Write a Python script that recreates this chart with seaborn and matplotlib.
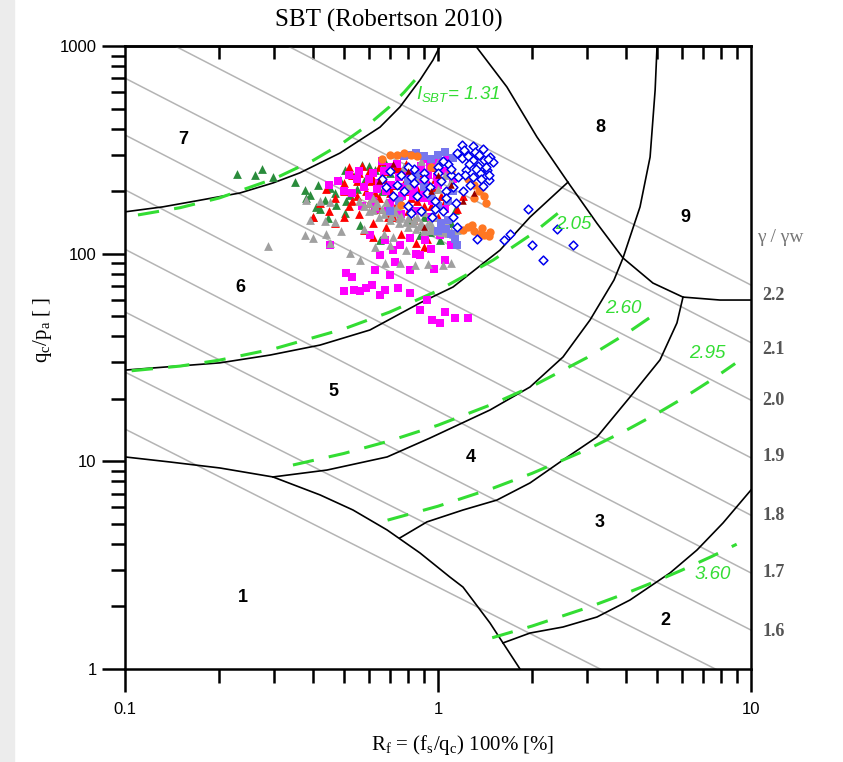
import matplotlib
matplotlib.use("Agg")
import matplotlib.pyplot as plt
from matplotlib.patches import Rectangle
from matplotlib.ticker import NullFormatter
import seaborn as sns

# zone boundaries: Rf [%] and qc/pa
b67_rf = [0.1, 0.132, 0.174, 0.233, 0.297, 0.362, 0.486, 0.653, 0.756, 0.876, 0.964, 1.015]
b67_q = [159, 168, 181, 196, 219, 245, 305, 407, 509, 686, 856, 1000]
b56_rf = [0.1, 0.201, 0.291, 0.42, 0.606, 0.876, 1.117, 1.578, 1.968, 2.602]
b56_q = [27.5, 29.8, 32.5, 36.3, 42.9, 57.9, 69.1, 104, 150, 221]
b8_rf = [1.32, 1.66, 2.07, 2.60, 3.22, 3.90, 4.86, 6.06, 7.96, 10]
b8_q = [1000, 635, 365, 221, 140, 95.3, 72.2, 61.8, 59.8, 59.8]
b45_rf = [0.297, 0.442, 0.688, 0.943, 1.466, 1.968, 2.508, 3.059, 3.65, 3.90, 4.42, 4.76, 4.94, 5.01]
b45_q = [8.41, 9.08, 10.5, 12.95, 17.67, 22.8, 31.8, 47.9, 74.7, 95.3, 168, 292, 614, 1000]
b1_rf = [0.1, 0.139, 0.201, 0.297, 0.42, 0.535, 0.688, 0.876, 1.092, 1.202, 1.466, 1.613, 1.828]
b1_q = [10.5, 9.93, 9.29, 8.41, 6.89, 5.83, 4.67, 3.62, 2.77, 2.48, 1.665, 1.335, 1.0]
b34_rf = [0.756, 0.922, 1.202, 1.543, 1.968, 2.508, 3.221, 4.106, 5.12, 5.80, 6.064]
b34_q = [4.28, 5.11, 5.83, 6.51, 7.87, 10.15, 13.1, 20.4, 30.8, 46.4, 61.8]
b23_rf = [1.613, 1.968, 2.508, 3.221, 4.106, 5.51, 6.72, 8.14, 10]
b23_q = [1.335, 1.49, 1.593, 1.78, 2.149, 2.90, 3.74, 5.05, 7.28]
boundaries = [(b67_rf, b67_q), (b56_rf, b56_q), (b8_rf, b8_q), (b45_rf, b45_q),
              (b1_rf, b1_q), (b34_rf, b34_q), (b23_rf, b23_q)]

# I_SBT contours (green dashed)
ic131_rf = [0.11, 0.15, 0.2, 0.3, 0.4, 0.5, 0.6, 0.7, 0.78, 0.85]
ic131_q = [153.6, 166.5, 185.4, 229.6, 281.8, 344, 418.4, 509.7, 599.3, 694]
ic205_rf = [0.105, 0.15, 0.2, 0.3, 0.5, 0.7, 1.0, 1.5, 2.0, 2.6]
ic205_q = [27.3, 28.75, 30.7, 34.85, 43.4, 52.3, 66.4, 93.1, 124.6, 171.1]
ic260_rf = [0.344, 0.5, 0.7, 1.0, 1.5, 2.0, 3.0, 4.0, 4.86]
ic260_q = [9.60, 10.91, 12.54, 14.93, 18.91, 22.98, 31.64, 41.24, 50.4]
ic295_rf = [0.69, 1.0, 1.5, 2.0, 3.0, 4.0, 5.0, 6.0, 7.5, 8.9]
ic295_q = [5.21, 6.08, 7.43, 8.76, 11.4, 14.13, 16.96, 19.94, 24.73, 29.58]
ic360_rf = [1.49, 2.0, 3.0, 4.0, 5.0, 6.0, 7.5, 9.0]
ic360_q = [1.414, 1.611, 1.973, 2.319, 2.656, 2.989, 3.486, 3.99]
ic_lines = [(ic131_rf, ic131_q), (ic205_rf, ic205_q), (ic260_rf, ic260_q),
            (ic295_rf, ic295_q), (ic360_rf, ic360_q)]
ic_texts = ["2.05", "2.60", "2.95", "3.60"]
ic_text_rf = [2.70, 3.90, 7.23, 7.56]
ic_text_q = [137.5, 54.2, 32.9, 2.84]

# unit weight lines: qc/pa where each meets Rf = 0.1 and Rf = 10
gl_left = [2540, 1330, 700, 373, 203, 105, 52.4, 26.9, 14.3]
gl_right = [70.6, 37.3, 19.7, 10.4, 5.5, 2.9, 1.54, 0.82, 0.43]
gamma_labels = ["2.2", "2.1", "2.0", "1.9", "1.8", "1.7", "1.6"]
gamma_label_q = [63.2, 34.4, 19.7, 10.5, 5.51, 2.90, 1.51]

zone_names = ["1", "2", "3", "4", "5", "6", "7", "8", "9"]
zone_rf = [0.238, 5.31, 3.29, 1.27, 0.463, 0.233, 0.153, 3.29, 6.15]
zone_q = [2.2, 1.72, 5.1, 10.4, 21.6, 69, 353, 403, 148.6]

# CPT data
green_rf = [0.228, 0.26, 0.274, 0.297, 0.349, 0.375, 0.39, 0.414, 0.435, 0.452, 0.486, 0.504,
            0.543, 0.572, 0.523, 0.472, 0.408, 0.445, 0.504, 0.563, 0.629, 0.677, 0.729, 0.814,
            0.876, 0.943, 1.015, 1.133, 0.653, 0.814, 0.60, 0.70, 0.78, 0.88, 0.95, 1.05,
            0.55, 0.62, 0.90, 1.10, 0.38, 0.42, 0.47, 0.40, 0.51, 0.58, 0.66, 0.74]
green_q = [242, 239, 256, 234, 222, 203, 192, 214, 181, 207, 226, 253,
           239, 267, 192, 172, 168, 149, 157, 137, 253, 276, 267, 226,
           123, 127, 116, 162, 116, 145, 265, 245, 262, 230, 200, 190,
           205, 175, 150, 140, 185, 165, 195, 150, 180, 225, 200, 215]
red_rf = [0.42, 0.45, 0.47, 0.50, 0.50, 0.52, 0.53, 0.55, 0.56, 0.58, 0.60, 0.60, 0.62,
          0.63, 0.65, 0.65, 0.67, 0.68, 0.70, 0.70, 0.72, 0.73, 0.75, 0.76, 0.78, 0.80,
          0.80, 0.82, 0.84, 0.86, 0.88, 0.90, 0.92, 0.95, 0.98, 1.00, 1.05, 1.10, 0.58,
          0.62, 0.47, 0.40, 0.44, 0.66, 0.74, 0.85, 0.90, 0.55, 0.76, 0.69, 1.15, 1.2, 0.98,
          0.5, 0.53, 0.56, 0.59, 0.62, 0.65, 0.68, 0.71, 0.74, 0.77, 0.8, 0.83, 0.86, 0.89,
          0.92, 0.95, 0.52, 0.57, 0.61, 0.66, 0.7, 0.75, 0.79, 0.84, 0.88, 0.93, 0.97, 1.02]
red_q = [175, 160, 185, 150, 200, 170, 240, 190, 155, 215, 250, 175, 140,
         195, 260, 165, 230, 135, 180, 205, 150, 255, 190, 125, 220, 160,
         240, 185, 145, 205, 265, 170, 118, 195, 230, 150, 180, 210, 130,
         120, 140, 150, 205, 280, 270, 112, 108, 225, 175, 150, 165, 190, 260,
         220, 180, 245, 200, 230, 185, 250, 215, 175, 245, 200, 230, 180, 240,
         210, 170, 260, 265, 225, 240, 195, 255, 270, 250, 190, 220, 205, 190]
mag_rf = [0.452, 0.51, 0.53, 0.606, 0.677, 0.756, 0.814, 0.908, 1.015, 0.653, 0.729, 0.876,
          1.053, 0.629, 0.702, 0.814, 0.615, 0.677, 0.745, 0.814, 0.653, 0.876, 0.957, 1.053,
          1.133, 1.247, 1.015, 0.922, 0.563, 0.59, 0.85, 0.95, 1.1, 0.97, 0.72, 0.50, 0.54,
          0.45, 0.48, 0.50, 0.52, 0.55, 0.58, 0.60, 0.62, 0.65, 0.68, 0.70, 0.72, 0.75,
          0.78, 0.80, 0.83, 0.86, 0.88, 0.90, 0.93, 0.96, 1.0, 1.05, 1.1, 1.12, 0.57,
          0.63, 0.69, 0.76, 0.85, 0.95, 1.05, 0.66, 0.92, 0.98,
          0.53, 0.56, 0.6, 0.64, 0.67, 0.71, 0.74, 0.77, 0.81, 0.84, 0.87, 0.91, 0.94,
          0.99, 1.03, 1.08, 0.62, 0.7, 0.79, 0.9]
mag_q = [110, 81, 77, 123, 116, 110, 119, 116, 123, 98.5, 91, 98.5,
         93, 83, 79, 83, 71, 67, 68, 65, 63, 53.5, 48, 52.4,
         49, 49, 46.4, 60, 66, 68, 100, 105, 110, 84, 104, 66, 67,
         215, 225, 200, 240, 230, 210, 190, 245, 220, 200, 260, 185, 235,
         210, 250, 190, 225, 265, 200, 240, 180, 215, 250, 200, 230, 170,
         165, 160, 155, 160, 150, 165, 280, 285, 275,
         195, 250, 230, 205, 250, 215, 270, 190, 235, 205, 250, 220, 260,
         235, 280, 290, 180, 175, 200, 185]
gray_rf = [0.286, 0.38, 0.42, 0.452, 0.39, 0.435, 0.47, 0.375, 0.40, 0.452, 0.523, 0.563,
           0.677, 0.756, 0.845, 0.93, 1.04, 1.1, 0.629, 0.70, 0.79, 0.49, 0.44,
           0.56, 0.6, 0.63, 0.66, 0.7, 0.73, 0.76, 0.8, 0.84, 0.88, 0.92, 0.96, 1.0, 1.05,
           1.1, 1.15, 0.6, 0.65, 0.7, 0.75, 0.8, 0.85, 0.9, 0.95, 0.62, 0.68, 0.74, 0.82,
           0.9, 0.98, 1.05,
           0.8, 0.85, 0.9, 0.95, 1.0, 1.05, 1.1, 0.78, 0.88, 1.0, 0.93, 0.72, 0.67, 0.58,
           0.58, 0.62, 0.67, 0.71, 0.75, 0.79, 0.83, 0.87, 0.91, 0.95, 0.99, 1.03, 1.08,
           1.12, 0.64, 0.72, 0.86, 0.94]
gray_q = [109, 181, 179, 178, 145, 143, 142, 123, 119, 112, 101, 93,
          90, 90, 88, 89, 88, 90, 108, 110, 104, 128, 125,
          180, 175, 170, 165, 160, 158, 152, 148, 145, 140, 138, 135, 132, 130,
          128, 130, 160, 150, 145, 140, 135, 132, 128, 130, 185, 178, 170, 165,
          158, 150, 145,
          215, 230, 250, 265, 275, 240, 225, 260, 280, 205, 195, 120, 125, 132,
          170, 162, 155, 152, 148, 142, 140, 136, 133, 130, 128, 127, 126,
          124, 175, 165, 150, 142]
peri_rf = [1.0, 1.05, 0.9, 0.85, 1.12, 1.16, 0.95, 1.02, 1.06, 1.1, 1.13, 1.15, 1.08,
           1.0, 0.8, 0.85, 0.9, 0.95, 1.0, 1.08, 1.12, 0.75, 0.7, 0.82, 0.78]
peri_q = [300, 310, 295, 305, 290, 300, 285, 140, 132, 125, 118, 110, 145,
          128, 225, 240, 210, 190, 170, 180, 200, 180, 160, 300, 295]
orange_rf = [0.70, 0.74, 0.78, 0.82, 0.86, 1.25, 1.3, 1.35, 1.4, 1.42, 1.38, 1.3,
             1.2, 1.25, 1.3, 1.35, 1.4, 1.45, 1.47, 1.38, 1.28, 0.76, 0.95, 1.1, 0.66]
orange_q = [300, 298, 305, 300, 295, 230, 215, 200, 190, 175, 210, 185,
            130, 135, 128, 125, 123, 121, 127, 133, 138, 172, 260, 250, 285]
blue_rf = [1.19, 1.29, 1.39, 1.47, 1.50, 1.43, 1.36, 1.29, 1.23, 1.29, 1.19, 1.15, 1.23,
           1.40, 1.45, 1.39, 1.27, 1.34, 1.46, 1.33,
           0.66, 0.70, 0.74, 0.78, 0.82, 0.86, 0.90, 0.94, 0.98, 1.02, 1.06, 1.10, 1.14,
           0.80, 0.88, 0.96, 1.04, 1.12, 0.72, 0.84, 1.00, 1.08,
           1.15, 1.33, 1.63, 1.70, 1.94, 2.0, 2.17, 2.4, 2.7, 0.82,
           1.21, 1.25, 1.31, 1.35, 1.42, 1.37, 1.26, 1.22, 1.32, 1.44, 0.68, 0.76,
           0.84, 0.92, 1.0, 1.06, 1.12, 0.8, 0.9, 0.98, 1.04, 1.1, 1.16, 1.2]
blue_q = [333, 330, 320, 293, 277, 253, 245, 234, 253, 282, 288, 305, 305,
          282, 226, 211, 214, 265, 240, 300,
          230, 250, 215, 200, 235, 190, 245, 210, 180, 225, 200, 240, 175,
          170, 160, 150, 160, 150, 190, 255, 260, 270,
          134, 118, 116, 125, 165, 110, 93, 132, 110, 157,
          315, 296, 310, 300, 262, 230, 270, 240, 255, 285, 210, 240,
          220, 195, 245, 185, 210, 260, 230, 165, 280, 255, 235, 200]
dred_rf = [0.95, 1.1, 0.8, 1.2, 0.65, 1.3, 0.9, 1.0, 0.72]
dred_q = [200, 215, 250, 180, 225, 195, 135, 240, 270]

plt.rcParams['font.family'] = 'Liberation Sans'
plt.rcParams['mathtext.fontset'] = 'custom'
plt.rcParams['mathtext.rm'] = 'Liberation Serif'
plt.rcParams['mathtext.it'] = 'Liberation Sans:italic'

fig = plt.figure(figsize=(8.43, 7.62), dpi=100)
fig.patches.append(Rectangle((0, 0), 14 / 843, 1, transform=fig.transFigure,
                             color='#ececec', zorder=-5))
ax = fig.add_axes([125 / 843, 93 / 762, 626 / 843, 623 / 762])
ax.set_xscale('log')
ax.set_yscale('log')
ax.set_xlim(0.1, 10)
ax.set_ylim(1, 1000)

line_kw = dict(ax=ax, legend=False, estimator=None, sort=False)

# unit weight lines
for lq, rq in zip(gl_left, gl_right):
    sns.lineplot(x=[0.1, 10], y=[lq, rq], color='#b4b4b4', lw=1.1, zorder=1, **line_kw)

# zone boundaries
for rf, q in boundaries:
    sns.lineplot(x=rf, y=q, color='black', lw=1.2, zorder=3, **line_kw)

# I_SBT contours
for rf, q in ic_lines:
    sns.lineplot(x=rf, y=q, color='#33dd33', lw=2.2, zorder=4, **line_kw)
    ax.lines[-1].set_dashes([7, 5])

# data
sns.scatterplot(x=green_rf, y=green_q, marker='^', color='#2a8c3c', s=40, linewidth=0, ax=ax, zorder=5)
sns.scatterplot(x=red_rf, y=red_q, marker='^', color='#ff0000', s=40, linewidth=0, ax=ax, zorder=5)
sns.scatterplot(x=mag_rf, y=mag_q, marker='s', color='#ff00ff', s=28, linewidth=0, ax=ax, zorder=5)
sns.scatterplot(x=gray_rf, y=gray_q, marker='^', color='#a0a0a0', s=40, linewidth=0, ax=ax, zorder=5)
sns.scatterplot(x=peri_rf, y=peri_q, marker='s', color='#7777ee', s=28, linewidth=0, ax=ax, zorder=5)
sns.scatterplot(x=orange_rf, y=orange_q, marker='o', color='#ff7722', s=36, linewidth=0, ax=ax, zorder=5)
sns.scatterplot(x=blue_rf, y=blue_q, marker='D', color='white', edgecolor='#0000ee', s=20,
                linewidth=1.1, ax=ax, zorder=6)
sns.scatterplot(x=dred_rf, y=dred_q, marker='^', color='#990000', s=22, linewidth=0, ax=ax, zorder=6)

# labels inside the chart
for name, rf, q in zip(zone_names, zone_rf, zone_q):
    ax.text(rf, q, name, ha='center', va='center', fontsize=13, fontweight='bold', zorder=7)
for t, rf, q in zip(ic_texts, ic_text_rf, ic_text_q):
    ax.text(rf, q, t, ha='center', va='center', fontsize=13.5, style='italic',
            color='#33dd33', zorder=7)
ax.text(0.851, 585, r'$I_{SBT}$= 1.31', ha='left', va='center', fontsize=13.5,
        style='italic', color='#33dd33', zorder=7)

for t, q in zip(gamma_labels, gamma_label_q):
    ax.annotate(t, xy=(1, q), xycoords=('axes fraction', 'data'), xytext=(8, 0),
                textcoords='offset points', ha='left', va='center', fontsize=13,
                fontweight='bold', family='Liberation Serif', color='#555555',
                annotation_clip=False)

ax.set_xlim(0.1, 10)
ax.set_ylim(1, 1000)

# axes styling
for sp in ax.spines.values():
    sp.set_linewidth(1.8)
x_minor = [0.2, 0.3, 0.4, 0.5, 0.6, 0.7, 0.8, 0.9, 2, 3, 4, 5, 6, 7, 8, 9]
y_minor = [2, 3, 4, 5, 6, 7, 8, 9, 20, 30, 40, 50, 60, 70, 80, 90,
           200, 300, 400, 500, 600, 700, 800, 900]
ax.set_xticks([0.1, 1, 10], labels=['0.1', '1', '10'])
ax.set_xticks(x_minor, minor=True)
ax.set_yticks([1, 10, 100, 1000], labels=['1', '10', '100', '1000'])
ax.set_yticks(y_minor, minor=True)
ax.xaxis.set_minor_formatter(NullFormatter())
ax.yaxis.set_minor_formatter(NullFormatter())
ax.tick_params(which='major', direction='out', length=16.5, width=1.8, labelsize=12)
ax.tick_params(which='minor', direction='out', length=10, width=1.8)
ax.tick_params(axis='x', which='major', pad=7)
ax.tick_params(axis='y', which='major', pad=4)
ax.tick_params(top=False, right=False)

sec = ax.secondary_xaxis('top')
sec.set_xticks([1])
sec.set_xticks(x_minor, minor=True)
sec.xaxis.set_major_formatter(NullFormatter())
sec.xaxis.set_minor_formatter(NullFormatter())
sec.tick_params(which='major', direction='in', length=11, width=1.8)
sec.tick_params(which='minor', direction='in', length=9, width=1.8)
sec.spines['top'].set_linewidth(1.8)

fig.text(389 / 843, 1 - 20 / 762, 'SBT (Robertson 2010)', ha='center', va='center',
         fontsize=18, family='Liberation Serif')
fig.text(463 / 843, 1 - 745 / 762, r'R$_{\rm f}$ = (f$_{\rm s}$/q$_{\rm c}$) 100% [%]',
         ha='center', va='center', fontsize=15, family='Liberation Serif')
fig.text(42 / 843, 1 - 330 / 762, r'q$_{\rm c}$/p$_{\rm a}$ [ ]', rotation=90,
         ha='center', va='center', fontsize=15, family='Liberation Serif')
fig.text(757 / 843, 1 - 238 / 762, 'γ / γw', ha='left', va='center', fontsize=14,
         family='Liberation Serif', color='#777777')

fig.savefig('out.png', dpi=100)
